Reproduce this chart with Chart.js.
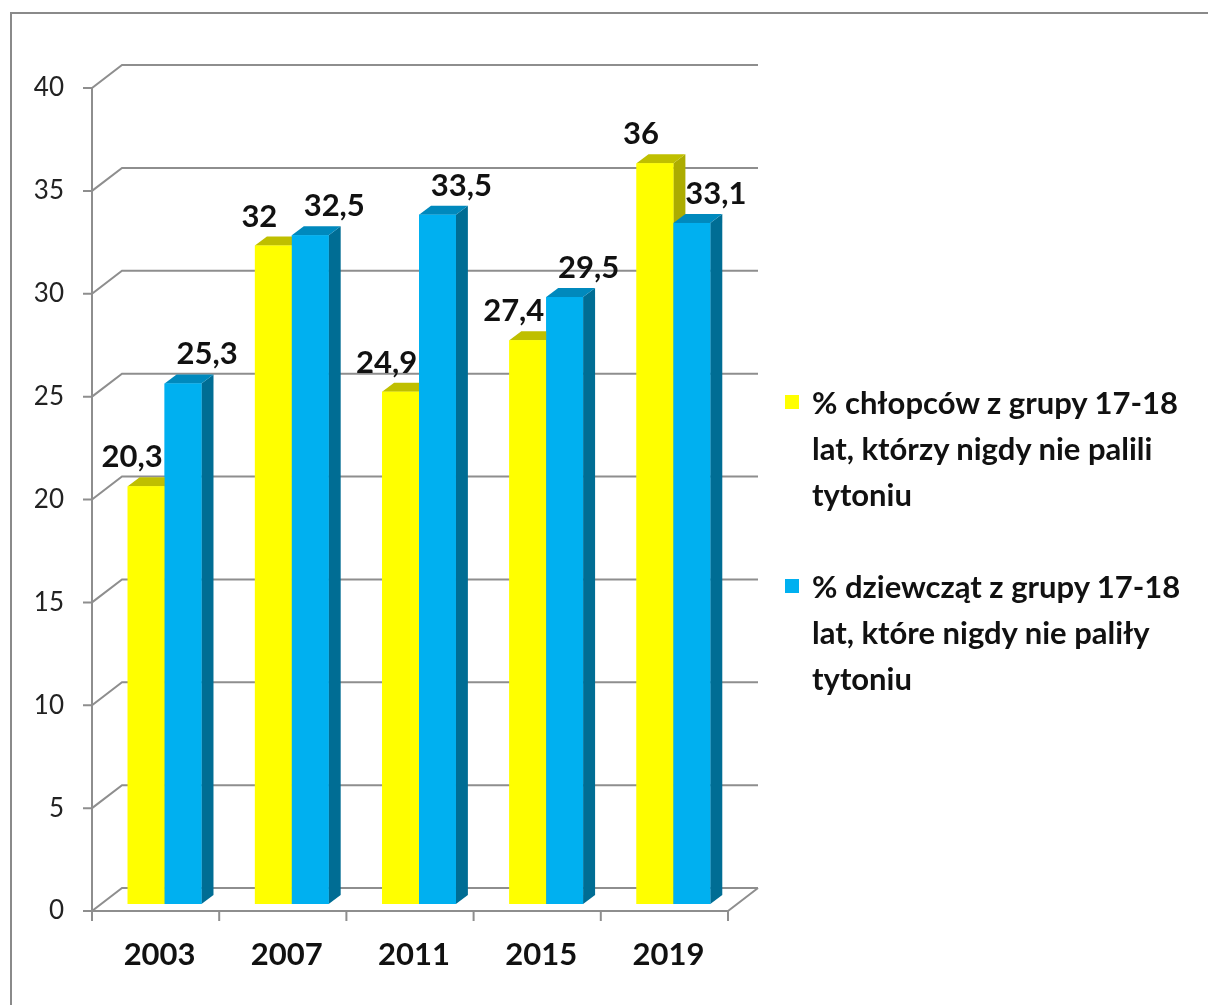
<!DOCTYPE html>
<html lang="pl">
<head>
  <meta charset="UTF-8">
  <title>Młodzież 17-18 lat, która nigdy nie paliła tytoniu</title>
  <script src="https://cdn.jsdelivr.net/npm/chart.js"></script>
  <style>
    body { margin: 0; background: #fff; overflow: hidden; font-family: Lato, sans-serif; }
    #wrap { position: relative; width: 1208px; height: 1005px; }
    #frame { position: absolute; left: 10px; top: 12px; width: 1300px; height: 1100px; border: 2px solid #8a8a8a; box-sizing: border-box; }
    #legenda { position: absolute; left: 785px; top: 379px; }
    .item { position: relative; padding-left: 27px; font-weight: bold; font-size: 31px; line-height: 46px; color: #111; margin-bottom: 46px; white-space: nowrap; }
    .item .box { position: absolute; left: 0; top: 16px; width: 14px; height: 14px; }
  </style>
</head>
<body>
  <div id="wrap">
    <div id="frame"></div>
    <canvas id="wykres" width="1208" height="1005"></canvas>
    <div id="legenda"></div>
  </div>

  <script>
    const lata = ['2003', '2007', '2011', '2015', '2019'];
    const chlopcy = [20.3, 32, 24.9, 27.4, 36];
    const dziewczeta = [25.3, 32.5, 33.5, 29.5, 33.1];
    const osY = [0, 5, 10, 15, 20, 25, 30, 35, 40];
    const opisChlopcy = ['% chłopców z grupy 17-18', 'lat, którzy nigdy nie palili', 'tytoniu'];
    const opisDziewczeta = ['% dziewcząt z grupy 17-18', 'lat, które nigdy nie paliły', 'tytoniu'];

    // przesunięcia "3D" względem płaszczyzny słupków
    const przod = { dx: -9, dy: 7 };
    const tyl = { dx: 21, dy: -16 };
    const glab = { dx: 12, dy: -9 };

    const fmt = v => String(v).replace('.', ',');

    const efekt3d = {
      id: 'efekt3d',
      beforeDatasetsDraw(chart) {
        const ctx = chart.ctx;
        const { left, right } = chart.chartArea;
        const y = chart.scales.y;
        const x = chart.scales.x;
        ctx.save();
        ctx.strokeStyle = '#8e8e8e';
        ctx.lineWidth = 2;
        ctx.fillStyle = '#222';
        ctx.font = '26px Lato';
        ctx.textAlign = 'right';
        ctx.textBaseline = 'middle';
        osY.forEach(v => {
          const py = y.getPixelForValue(v);
          ctx.beginPath();
          ctx.moveTo(left + przod.dx - 9, py + przod.dy);
          ctx.lineTo(left + przod.dx, py + przod.dy);
          ctx.lineTo(left + tyl.dx, py + tyl.dy);
          ctx.lineTo(right + tyl.dx, py + tyl.dy);
          ctx.stroke();
          ctx.fillText(String(v), left + przod.dx - 28, py + przod.dy);
        });
        const y0 = y.getPixelForValue(0);
        const yMax = y.getPixelForValue(osY[osY.length - 1]);
        ctx.beginPath();
        ctx.moveTo(left + przod.dx, yMax + przod.dy);
        ctx.lineTo(left + przod.dx, y0 + przod.dy);
        ctx.lineTo(right + przod.dx, y0 + przod.dy);
        ctx.lineTo(right + tyl.dx, y0 + tyl.dy);
        ctx.stroke();

        // kreski osi X
        const n = lata.length;
        for (let i = 0; i <= n; i++) {
          const px = left + i * (right - left) / n + przod.dx;
          ctx.beginPath();
          ctx.moveTo(px, y0 + przod.dy);
          ctx.lineTo(px, y0 + przod.dy + 10);
          ctx.stroke();
        }
        ctx.fillStyle = '#111';
        ctx.font = 'bold 31px Lato';
        ctx.textAlign = 'center';
        lata.forEach((l, i) => {
          ctx.fillText(l, x.getPixelForValue(i) + przod.dx + 4, y0 + przod.dy + 44);
        });
        ctx.restore();
      },
      afterDatasetsDraw(chart) {
        const ctx = chart.ctx;
        ctx.save();
        const metas = chart.data.datasets.map((d, i) => chart.getDatasetMeta(i));
        lata.forEach((l, i) => {
          metas.forEach((meta, d) => {
            const ds = chart.data.datasets[d];
            const el = meta.data[i];
            const { x, y, base, width } = el.getProps(['x', 'y', 'base', 'width'], true);
            const lx = x - width / 2, rx = x + width / 2;
            ctx.fillStyle = ds.bokKolor;
            ctx.beginPath();
            ctx.moveTo(rx, y);
            ctx.lineTo(rx + glab.dx, y + glab.dy);
            ctx.lineTo(rx + glab.dx, base + glab.dy);
            ctx.lineTo(rx, base);
            ctx.closePath();
            ctx.fill();
            ctx.fillStyle = ds.gornyKolor;
            ctx.beginPath();
            ctx.moveTo(lx, y);
            ctx.lineTo(lx + glab.dx, y + glab.dy);
            ctx.lineTo(rx + glab.dx, y + glab.dy);
            ctx.lineTo(rx, y);
            ctx.closePath();
            ctx.fill();
            ctx.fillStyle = ds.backgroundColor;
            ctx.fillRect(lx, y, width, base - y);
          });
        });
        // etykiety wartości
        ctx.fillStyle = '#111';
        ctx.font = 'bold 31px Lato';
        ctx.textAlign = 'center';
        ctx.textBaseline = 'middle';
        metas.forEach((meta, d) => {
          const ds = chart.data.datasets[d];
          meta.data.forEach((el, i) => {
            const { x, y } = el.getProps(['x', 'y'], true);
            ctx.fillText(fmt(ds.data[i]), x + ds.etykietaDx, y - 29);
          });
        });
        ctx.restore();
      }
    };

    const wykres = new Chart(document.getElementById('wykres'), {
      type: 'bar',
      data: {
        labels: lata,
        datasets: [
          { label: opisChlopcy.join(' '), data: chlopcy, backgroundColor: '#ffff00', gornyKolor: '#bfbf00', bokKolor: '#acac00', etykietaDx: -14, linie: opisChlopcy },
          { label: opisDziewczeta.join(' '), data: dziewczeta, backgroundColor: '#00b0f0', gornyKolor: '#0089bd', bokKolor: '#006d94', etykietaDx: 24, linie: opisDziewczeta }
        ]
      },
      options: {
        responsive: false,
        animation: false,
        layout: { padding: { left: 101, right: 471, top: 81, bottom: 101 } },
        datasets: { bar: { categoryPercentage: 0.58, barPercentage: 1 } },
        scales: {
          x: { display: false },
          y: { display: false, min: 0, max: 40, ticks: { stepSize: 5 } }
        },
        plugins: { legend: { display: false }, tooltip: { enabled: false } }
      },
      plugins: [efekt3d]
    });

    // legenda po prawej
    const legenda = document.getElementById('legenda');
    wykres.data.datasets.forEach(ds => {
      const item = document.createElement('div');
      item.className = 'item';
      item.innerHTML = '<span class="box" style="background:' + ds.backgroundColor + '"></span>' + ds.linie.join('<br>');
      legenda.appendChild(item);
    });
  </script>
</body>
</html>
